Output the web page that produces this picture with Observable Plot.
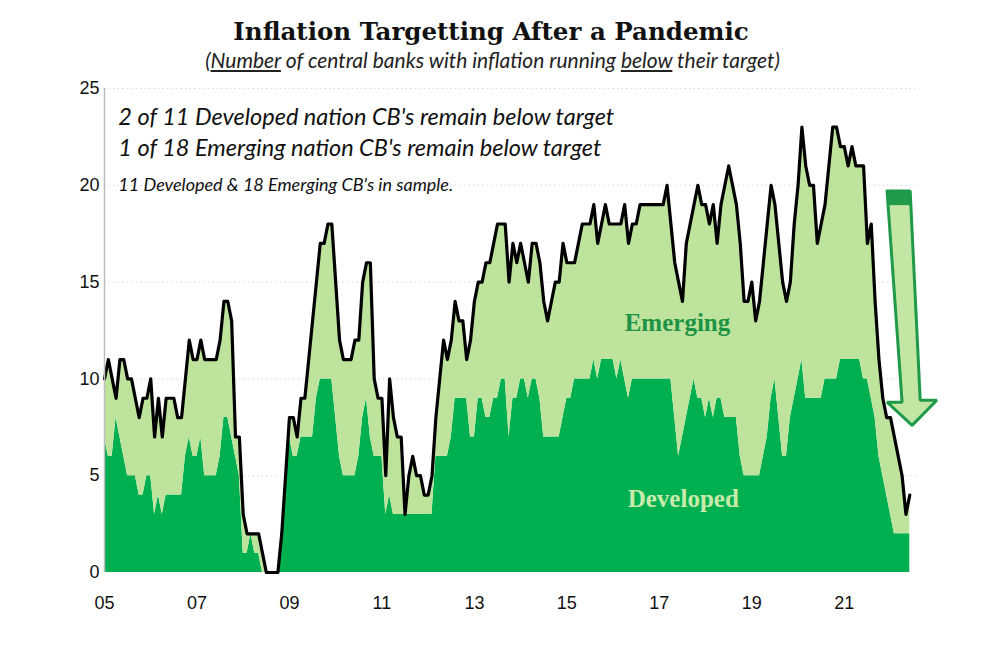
<!DOCTYPE html>
<html><head><meta charset="utf-8">
<script src="https://cdn.jsdelivr.net/npm/d3@7"></script>
<script src="https://cdn.jsdelivr.net/npm/@observablehq/plot@0.6"></script>
<style>
body{margin:0;background:#fff;width:1000px;height:664px;overflow:hidden;}
#title{height:70px;position:relative;}
.t1{position:absolute;left:0;width:982px;top:17px;text-align:center;font:bold 24.5px "DejaVu Serif",serif;color:#111;}
.t2{position:absolute;left:0;width:985px;top:47px;text-align:center;font:italic 21px Lato,sans-serif;color:#222;}
#chart svg{display:block;}
</style></head><body>
<div id="title"><div class="t1">Inflation Targetting After a Pandemic</div><div class="t2">(<u>Number</u> of central banks with inflation running <u>below</u> their target)</div></div>
<div id="chart"></div>
<script>
// Monthly, starting January 2005
const startYear = 2005;
const totalBelow = [
  10,11,10,9,11,11,10,10,9,8,9,9,
  10,7,9,7,9,9,9,8,8,10,12,11,
  11,12,11,11,11,11,12,14,14,13,7,7,
  3,2,2,2,2,1,0,0,0,0,2,5,
  8,8,7,9,9,11,13,15,17,17,18,18,
  15,12,11,11,11,12,12,15,16,16,10,9,
  9,5,10,8,7,7,3,5,6,5,5,4,
  4,5,8,10,12,11,12,14,13,13,11,12,
  14,15,15,16,16,17,18,18,18,15,17,16,
  17,16,15,17,17,16,14,13,14,15,15,17,
  16,16,16,17,18,18,18,19,17,18,19,18,
  18,18,18,19,17,18,18,19,19,19,19,19,
  19,19,20,18,16,15,14,17,18,19,20,19,
  19,18,19,17,19,20,21,20,19,17,14,14,
  15,13,14,16,18,20,19,17,15,14,15,18,
  20,23,21,20,20,17,18,19,21,23,23,22,
  22,21,22,21,21,21,17,18,14,11,9,8,
  8,7,6,5,3,4
];
const developedBelow = [
  7,6,6,8,7,6,5,5,5,4,4,5,
  5,3,4,3,4,4,4,4,4,6,7,6,
  6,7,5,5,5,5,6,8,8,7,6,5,
  1,1,2,1,1,0,0,0,0,0,2,5,
  7,6,6,7,7,7,7,9,10,10,10,10,
  8,6,5,5,5,5,6,8,9,7,6,6,
  6,3,4,3,3,3,3,3,3,3,3,3,
  3,3,6,6,6,6,7,9,9,9,9,7,
  7,9,9,8,8,9,9,10,10,7,9,9,
  10,10,9,10,10,9,7,7,7,7,7,8,
  9,9,10,10,10,10,10,11,10,11,11,11,
  11,10,11,10,9,10,10,10,10,10,10,10,
  10,10,10,10,8,6,7,8,9,10,9,9,
  8,9,8,9,9,8,8,8,8,6,5,5,
  5,5,5,6,7,9,10,8,6,6,8,9,
  10,11,9,9,9,9,9,10,10,10,10,11,
  11,11,11,11,11,10,10,9,8,6,5,4,
  3,2,2,2,2,2
];
const yTicks = [0,5,10,15,20,25];
const xTickYears = [2005,2007,2009,2011,2013,2015,2017,2019,2021];
const notes = [
  {text:"2 of 11 Developed nation CB's remain below target", month:3.6, value:23.5, size:23.5},
  {text:"1 of 18 Emerging nation CB's remain below target", month:3.6, value:21.9, size:23.5},
  {text:"11 Developed & 18 Emerging CB's in sample.", month:3.6, value:20.0, size:18}
];
const seriesLabels = [
  {text:"Emerging", month:148.7, value:12.9, color:"#1d9445"},
  {text:"Developed", month:150.2, value:3.8, color:"#c9ebaa"}
];
// Down arrow annotation (month offset, value)
const arrowOutline = [[203.1,19.7],[209.1,19.7],[211.7,8.9],[216,8.9],[209.6,7.6],[203.1,8.8],[207,8.8],[203.1,19.7]];
const arrowCap = [[203.1,19.7],[209.1,19.7],[209.4,19.0],[203.3,19.0],[203.1,19.7]];

const darkGreen = "#00b050";
const lightGreen = "#bde39c";

const toYear = m => startYear + m / 12;
const rows = totalBelow.map((t, i) => ({x: toYear(i), total: t, dev: developedBelow[i]}));
const arrowPts = arrowOutline.map(([m, v]) => ({x: toYear(m), y: v}));
const capPts = arrowCap.map(([m, v]) => ({x: toYear(m), y: v}));
const noteRows = notes.map(n => ({...n, x: toYear(n.month)}));
const labelRows = seriesLabels.map(n => ({...n, x: toYear(n.month)}));

const chart = Plot.plot({
  width: 1000,
  height: 594,
  marginLeft: 104,
  marginRight: 83,
  marginTop: 18,
  marginBottom: 92,
  style: {fontFamily: "'Liberation Sans', Arial, sans-serif", fontSize: "18px", color: "#111", background: "#fff"},
  x: {domain: [startYear, toYear(211)], ticks: xTickYears, tickFormat: d => String(d).slice(2), label: null},
  y: {domain: [0, 25], ticks: yTicks, label: null},
  marks: [
    Plot.gridY({ticks: [5,10,15,20,25], stroke: "#c8c8c8", strokeOpacity: 0.7, strokeDasharray: "1.5,3"}),
    Plot.areaY(rows, {x: "x", y1: 0, y2: "dev", fill: darkGreen}),
    Plot.areaY(rows, {x: "x", y1: "dev", y2: "total", fill: lightGreen}),
    Plot.lineY(rows, {x: "x", y: "total", stroke: "#000", strokeWidth: 3.2, strokeLinejoin: "round"}),
    Plot.ruleX([startYear], {y1: 0, y2: 25, stroke: "#bdbdbd", strokeWidth: 1.5}),
    Plot.line(arrowPts, {x: "x", y: "y", fill: "#c3e6a4", stroke: "#1e9a48", strokeWidth: 3, strokeLinejoin: "miter"}),
    Plot.line(capPts, {x: "x", y: "y", fill: "#1e9a48", stroke: "#1e9a48", strokeWidth: 1}),
    Plot.text(noteRows, {x: "x", y: "value", text: "text", fontSize: "size", textAnchor: "start", fontStyle: "italic", fontFamily: "Lato, sans-serif", fill: "#111"}),
    Plot.text(labelRows, {x: "x", y: "value", text: "text", fill: "color", fontSize: 25, fontWeight: "bold", fontFamily: "'Liberation Serif', serif"}),
    Plot.axisY({ticks: yTicks, tickSize: 0, tickPadding: 5, fontSize: 18, label: null}),
    Plot.axisX({ticks: xTickYears, tickFormat: d => String(d).slice(2), tickSize: 0, tickPadding: 24, fontSize: 18, label: null})
  ]
});
document.getElementById("chart").appendChild(chart);
</script>
</body></html>
